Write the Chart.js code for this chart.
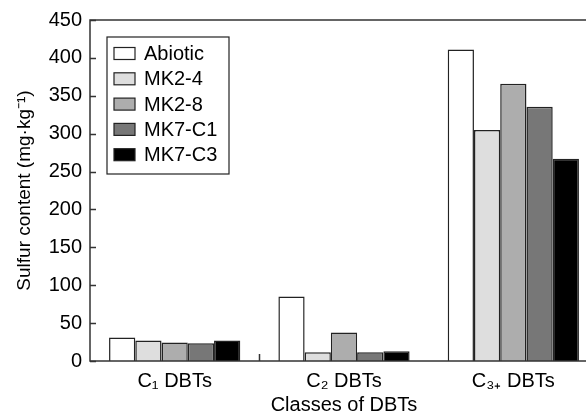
<!DOCTYPE html>
<html>
<head>
<meta charset="utf-8">
<script src="https://cdn.jsdelivr.net/npm/chart.js@4/dist/chart.umd.min.js"></script>
<style>
  html, body { margin: 0; padding: 0; background: #fff; overflow: hidden; }
</style>
</head>
<body>
<canvas id="grafico" width="600" height="425"></canvas>
<script>
// dados
const classes = ['C\u2081 DBTs', 'C\u2082 DBTs', 'C\u2083\u208A DBTs'];
const abiotic = [31, 85, 411];
const mk2_4 = [27, 11.5, 305];
const mk2_8 = [24.5, 37.5, 366];
const mk7_c1 = [23.5, 11.5, 335.5];
const mk7_c3 = [27, 13, 267];
const yTicks = [0, 50, 100, 150, 200, 250, 300, 350, 400, 450];

const fonte = 'Liberation Sans, Arial, sans-serif';
const corBorda = '#222';

// moldura, ticks para dentro e legenda dentro da area
const extras = {
    id: 'extras',
    afterDraw(chart) {
        const ctx = chart.ctx;
        const a = chart.chartArea;
        const x = chart.scales.x;
        const y = chart.scales.y;
        ctx.save();
        ctx.strokeStyle = '#333';
        ctx.lineWidth = 1.5;
        ctx.strokeRect(a.left, a.top, a.right - a.left, a.bottom - a.top);

        ctx.beginPath();
        yTicks.forEach(v => {
            const py = Math.round(y.getPixelForValue(v)) + 0.5;
            ctx.moveTo(a.left, py);
            ctx.lineTo(a.left + 6, py);
        });
        const px = Math.round(x.getPixelForValue(0.5)) + 0.5;
        ctx.moveTo(px, a.bottom);
        ctx.lineTo(px, a.bottom - 7);
        ctx.stroke();

        // legenda
        const lx = a.left + 17, ly = a.top + 17, lw = 122, lh = 137;
        ctx.fillStyle = '#fff';
        ctx.fillRect(lx, ly, lw, lh);
        ctx.lineWidth = 1.2;
        ctx.strokeStyle = '#222';
        ctx.strokeRect(lx, ly, lw, lh);
        ctx.font = '20px ' + fonte;
        ctx.textBaseline = 'middle';
        chart.data.datasets.forEach((ds, i) => {
            const cy = ly + 16.5 + i * 25.3;
            ctx.fillStyle = ds.backgroundColor;
            ctx.fillRect(lx + 7, cy - 6, 21, 12);
            ctx.strokeStyle = corBorda;
            ctx.lineWidth = 1.2;
            ctx.strokeRect(lx + 7, cy - 6, 21, 12);
            ctx.fillStyle = '#000';
            ctx.fillText(ds.label, lx + 37, cy + 1);
        });
        ctx.restore();
    }
};

function serie(label, data, cor) {
    return { label, data, backgroundColor: cor, borderColor: corBorda, borderWidth: 1.5 };
}

new Chart(document.getElementById('grafico'), {
    type: 'bar',
    data: {
        labels: classes,
        datasets: [
            serie('Abiotic', abiotic, '#ffffff'),
            serie('MK2-4', mk2_4, '#dedede'),
            serie('MK2-8', mk2_8, '#adadad'),
            serie('MK7-C1', mk7_c1, '#777777'),
            serie('MK7-C3', mk7_c3, '#000000')
        ]
    },
    options: {
        responsive: false,
        animation: false,
        layout: { padding: { top: 20, right: 2, left: 0, bottom: 0 } },
        datasets: { bar: { categoryPercentage: 0.775, barPercentage: 1 } },
        plugins: { legend: { display: false }, tooltip: { enabled: false } },
        scales: {
            x: {
                grid: { display: false, drawTicks: false },
                border: { display: false },
                ticks: { color: '#000', font: { family: fonte, size: 20 }, padding: 8 },
                title: { display: true, text: 'Classes of DBTs', color: '#000',
                         font: { family: fonte, size: 20 }, padding: { top: 0, bottom: 8 } },
                afterFit(s) { s.height = 64; }
            },
            y: {
                min: 0,
                max: 450,
                afterBuildTicks(s) { s.ticks = yTicks.map(v => ({ value: v })); },
                grid: { display: false, drawTicks: false },
                border: { display: false },
                ticks: { color: '#000', font: { family: fonte, size: 20 }, padding: 8 },
                title: { display: true, text: 'Sulfur content (mg\u00B7kg\u207B\u00B9)', color: '#000',
                         font: { family: fonte, size: 19 }, padding: { top: 13, bottom: 0 } },
                afterFit(s) { s.width = 90; }
            }
        }
    },
    plugins: [extras]
});
</script>
</body>
</html>
